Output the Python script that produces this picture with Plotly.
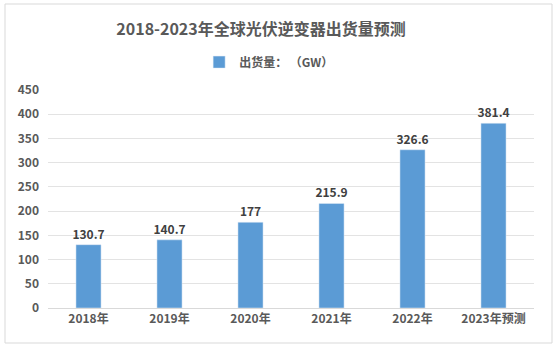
import plotly.graph_objects as go

categories = ["2018年", "2019年", "2020年", "2021年", "2022年", "2023年预测"]
values = [130.7, 140.7, 177, 215.9, 326.6, 381.4]
labels = ["130.7", "140.7", "177", "215.9", "326.6", "381.4"]
tick_vals = [0, 50, 100, 150, 200, 250, 300, 350, 400, 450]

font_family = "Noto Sans CJK SC, Microsoft YaHei, sans-serif"

fig = go.Figure()
fig.add_trace(go.Bar(
    x=categories, y=values, name="出货量： （GW）",
    marker=dict(color="#5B9BD5"),
    width=0.31,
    text=labels, textposition="outside", constraintext="none",
    textfont=dict(size=12, color="#404040", family=font_family, weight="bold"),
    cliponaxis=False,
))

fig.update_layout(
    width=559, height=349,
    margin=dict(l=48, r=25, t=90, b=41),
    paper_bgcolor="white", plot_bgcolor="white",
    font=dict(family=font_family, color="#595959", size=12),
    title=dict(text="<b>2018-2023年全球光伏逆变器出货量预测</b>", x=0.467, xanchor="center",
               y=0.917, yanchor="middle", font=dict(size=16, color="#595959")),
    showlegend=True,
    legend=dict(orientation="h", x=0.455, xanchor="center", y=1.128, yanchor="middle",
                font=dict(size=12, color="#595959", weight="bold"), itemwidth=30),
    bargap=0.69,
    xaxis=dict(showline=True, linecolor="#D9D9D9", linewidth=1, ticks="",
               tickfont=dict(size=12, color="#595959", weight="bold")),
    yaxis=dict(range=[0, 450], tickvals=tick_vals, showgrid=True, gridcolor="#E3E3E3",
               gridwidth=1, zeroline=False, ticks="", ticklabelstandoff=8,
               tickfont=dict(size=12, color="#595959", weight="bold")),
)
# outer border
fig.add_shape(type="rect", xref="paper", yref="paper",
              x0=-43/486, x1=(552-48)/486, y0=-(343-308)/218, y1=(308-4)/218,
              line=dict(color="#D9D9D9", width=1), layer="below")

fig.write_html("out.html")
